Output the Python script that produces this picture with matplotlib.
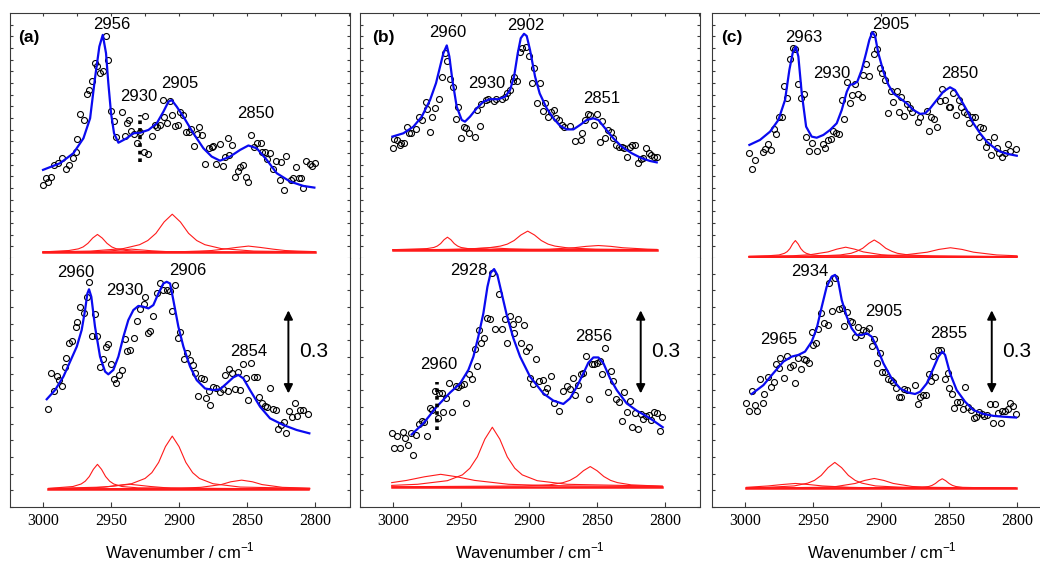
import matplotlib.pyplot as plt
from matplotlib.ticker import MultipleLocator

plt.rcParams["font.family"] = ["Liberation Sans", "DejaVu Sans"]
plt.rcParams["mathtext.fontset"] = "custom"
plt.rcParams["mathtext.rm"] = "Liberation Sans"

# ---------------- panel (a) ----------------
a_up_x = [3000, 2998, 2996, 2994, 2992, 2989, 2986, 2983, 2981, 2978, 2976, 2975, 2973, 2970, 2968, 2966, 2964,
          2962, 2960, 2958, 2956, 2954, 2952, 2950, 2948, 2946, 2942, 2940, 2938, 2937, 2935, 2933, 2931, 2929,
          2926, 2925, 2923, 2920, 2918, 2916, 2914, 2912, 2911, 2909, 2907, 2905, 2903, 2901, 2899, 2897, 2895,
          2893, 2891, 2889, 2887, 2885, 2883, 2881, 2878, 2876, 2875, 2873, 2870, 2868, 2866, 2864, 2863, 2861,
          2859, 2857, 2855, 2853, 2851, 2849, 2847, 2845, 2843, 2840, 2839, 2837, 2835, 2833, 2831, 2829, 2826,
          2825, 2823, 2821, 2818, 2816, 2814, 2812, 2810, 2809, 2807, 2804, 2802, 2800]
a_up_y = [0.264, 0.288, 0.273, 0.291, 0.337, 0.342, 0.360, 0.321, 0.337, 0.360,
          0.384, 0.430, 0.520, 0.499, 0.592, 0.606, 0.637, 0.704, 0.692, 0.667,
          0.674, 0.801, 0.716, 0.532, 0.493, 0.436, 0.528, 0.439, 0.487, 0.499,
          0.457, 0.448, 0.415, 0.454, 0.384, 0.514, 0.375, 0.442, 0.480, 0.472,
          0.481, 0.570, 0.508, 0.487, 0.567, 0.517, 0.478, 0.481, 0.528, 0.516,
          0.454, 0.454, 0.467, 0.403, 0.448, 0.472, 0.444, 0.338, 0.396, 0.400,
          0.404, 0.339, 0.412, 0.332, 0.363, 0.433, 0.372, 0.407, 0.291, 0.315,
          0.327, 0.337, 0.291, 0.276, 0.444, 0.400, 0.415, 0.416, 0.384, 0.384,
          0.357, 0.379, 0.321, 0.351, 0.283, 0.347, 0.244, 0.367, 0.283, 0.288,
          0.330, 0.288, 0.288, 0.254, 0.349, 0.338, 0.331, 0.343]
a_up_fit_x = [3000, 2987.5, 2977.7, 2970.3, 2965.4, 2961.8, 2958.6, 2956.1, 2953.7, 2952.0, 2950.0, 2947.8,
              2944.6, 2938.5, 2933.6, 2928.7, 2922.5, 2916.4, 2911.5, 2907.8, 2905.4, 2901.7, 2896.8, 2889.5,
              2882.1, 2876.0, 2869.9, 2862.5, 2855.1, 2849.0, 2842.9, 2835.5, 2828.2, 2818.4, 2808.6, 2800.5]
a_up_fit_y = [0.318, 0.342, 0.378, 0.432, 0.504, 0.649, 0.763, 0.805, 0.739, 0.631, 0.522, 0.450,
              0.416, 0.432, 0.450, 0.452, 0.462, 0.486, 0.528, 0.564, 0.570, 0.546, 0.510, 0.450,
              0.396, 0.366, 0.351, 0.366, 0.390, 0.406, 0.396, 0.354, 0.306, 0.276, 0.260, 0.254]
a_up_base = 0.020
a_up_bands = [
    ([3000, 2981, 2974, 2970.5, 2967, 2963.5, 2960, 2956.5, 2953, 2949.5, 2946, 2939, 2925, 2800],
     [0.022, 0.027, 0.033, 0.040, 0.053, 0.072, 0.085, 0.072, 0.053, 0.040, 0.033, 0.027, 0.023, 0.020]),
    ([3000, 2965, 2941, 2929, 2923, 2917, 2911, 2905, 2899, 2893, 2887, 2881, 2869, 2845, 2800],
     [0.022, 0.025, 0.034, 0.048, 0.063, 0.089, 0.130, 0.158, 0.130, 0.089, 0.063, 0.048, 0.034, 0.025, 0.022]),
    ([3000, 2903, 2885, 2876, 2867, 2858, 2849, 2840, 2831, 2822, 2813, 2800],
     [0.020, 0.022, 0.025, 0.027, 0.032, 0.038, 0.043, 0.038, 0.032, 0.027, 0.025, 0.023]),
    ([3000, 2980, 2965, 2950, 2935, 2920, 2905, 2890, 2800],
     [0.020, 0.021, 0.022, 0.026, 0.032, 0.026, 0.022, 0.021, 0.020]),
]
a_up_labels = ["2956", "2930", "2905", "2850"]

a_low_x = [2996, 2994, 2992, 2990, 2988, 2986, 2984, 2983, 2981, 2979, 2976, 2975, 2973, 2970, 2968, 2966, 2964,
           2962, 2960, 2958, 2956, 2954, 2952, 2950, 2948, 2946, 2944, 2942, 2940, 2938, 2936, 2933, 2931, 2929,
           2926, 2925, 2923, 2921, 2919, 2916, 2914, 2912, 2909, 2907, 2905, 2903, 2901, 2899, 2896, 2894, 2892,
           2890, 2888, 2886, 2884, 2882, 2880, 2878, 2877, 2875, 2873, 2870, 2868, 2866, 2864, 2863, 2861, 2859,
           2857, 2855, 2853, 2851, 2849, 2847, 2845, 2843, 2841, 2839, 2837, 2835, 2833, 2831, 2829, 2827, 2825,
           2823, 2821, 2819, 2817, 2815, 2813, 2811, 2809, 2805]
a_low_y = [0.353, 0.485, 0.420, 0.473, 0.458, 0.437, 0.504, 0.539, 0.593, 0.600,
           0.649, 0.669, 0.723, 0.702, 0.759, 0.812, 0.619, 0.697, 0.619, 0.507,
           0.533, 0.576, 0.587, 0.516, 0.461, 0.449, 0.477, 0.495, 0.605, 0.563,
           0.567, 0.609, 0.673, 0.714, 0.733, 0.757, 0.629, 0.637, 0.688, 0.771,
           0.809, 0.783, 0.783, 0.781, 0.709, 0.801, 0.611, 0.633, 0.534, 0.557,
           0.531, 0.513, 0.485, 0.401, 0.464, 0.461, 0.395, 0.420, 0.367, 0.434,
           0.430, 0.416, 0.425, 0.477, 0.419, 0.498, 0.485, 0.425, 0.489, 0.421,
           0.516, 0.464, 0.386, 0.521, 0.468, 0.468, 0.398, 0.374, 0.365, 0.362,
           0.428, 0.353, 0.350, 0.282, 0.296, 0.308, 0.266, 0.348, 0.326, 0.377,
           0.330, 0.350, 0.350, 0.336]
a_low_fit_x = [2997.3, 2991.2, 2985.0, 2980.1, 2975.2, 2971.6, 2969.1, 2967.4, 2966.2, 2964.5, 2961.8, 2958.1,
               2954.4, 2952.0, 2948.3, 2944.6, 2940.9, 2937.3, 2933.6, 2929.9, 2926.2, 2922.5, 2918.9, 2915.2,
               2911.5, 2909.1, 2906.6, 2904.2, 2900.5, 2896.8, 2891.9, 2887.0, 2880.9, 2874.8, 2869.9, 2865.0,
               2860.1, 2856.4, 2852.7, 2847.8, 2840.4, 2833.1, 2823.3, 2813.5, 2804.2]
a_low_fit_y = [0.389, 0.422, 0.471, 0.525, 0.579, 0.639, 0.711, 0.771, 0.786, 0.759, 0.651, 0.543,
               0.489, 0.479, 0.495, 0.543, 0.615, 0.675, 0.711, 0.726, 0.723, 0.717, 0.729, 0.771,
               0.807, 0.813, 0.807, 0.747, 0.651, 0.579, 0.507, 0.458, 0.428, 0.422, 0.425, 0.446,
               0.468, 0.477, 0.464, 0.422, 0.362, 0.320, 0.296, 0.278, 0.266]
a_low_base = 0.065
a_low_bands = [
    ([2996, 2978, 2972, 2969, 2966, 2963, 2960, 2957, 2954, 2951, 2948, 2942, 2930, 2804],
     [0.067, 0.074, 0.083, 0.093, 0.110, 0.136, 0.154, 0.136, 0.110, 0.093, 0.083, 0.074, 0.069, 0.065]),
    ([2996, 2955, 2935, 2925, 2920, 2915, 2910, 2905, 2900, 2895, 2890, 2885, 2875, 2855, 2804],
     [0.067, 0.072, 0.084, 0.103, 0.124, 0.161, 0.218, 0.256, 0.218, 0.161, 0.124, 0.103, 0.084, 0.072, 0.067]),
    ([2996, 2899, 2884, 2869, 2862, 2854, 2846, 2839, 2824, 2804],
     [0.065, 0.068, 0.071, 0.081, 0.091, 0.097, 0.091, 0.081, 0.071, 0.068]),
    ([2996, 2981, 2966, 2951, 2936, 2921, 2906, 2891, 2804],
     [0.066, 0.067, 0.068, 0.074, 0.082, 0.074, 0.068, 0.067, 0.065]),
]
a_low_labels = ["2960", "2930", "2906", "2854"]

# ---------------- panel (b) ----------------
b_up_x = [3000, 2999, 2997, 2995, 2994, 2992, 2990, 2988, 2987, 2983, 2981, 2979, 2976, 2975, 2973, 2971, 2969,
          2966, 2964, 2962, 2960, 2958, 2956, 2954, 2952, 2950, 2948, 2946, 2944, 2940, 2938, 2936, 2935, 2932,
          2930, 2926, 2924, 2920, 2918, 2916, 2914, 2912, 2911, 2909, 2907, 2905, 2902, 2900, 2898, 2896, 2894,
          2892, 2890, 2888, 2886, 2884, 2882, 2880, 2878, 2876, 2874, 2870, 2866, 2862, 2861, 2859, 2857, 2855,
          2852, 2850, 2848, 2846, 2844, 2842, 2840, 2838, 2836, 2834, 2832, 2830, 2828, 2826, 2824, 2822, 2820,
          2818, 2816, 2814, 2812, 2810, 2808, 2806]
b_up_y = [0.396, 0.428, 0.426, 0.406, 0.416, 0.414, 0.471, 0.452, 0.450, 0.464,
          0.508, 0.498, 0.564, 0.538, 0.456, 0.510, 0.540, 0.574, 0.652, 0.739,
          0.712, 0.646, 0.616, 0.501, 0.544, 0.434, 0.471, 0.468, 0.450, 0.436,
          0.534, 0.477, 0.555, 0.570, 0.573, 0.567, 0.573, 0.573, 0.582, 0.597,
          0.606, 0.639, 0.652, 0.637, 0.745, 0.757, 0.763, 0.729, 0.631, 0.685,
          0.558, 0.631, 0.531, 0.561, 0.510, 0.528, 0.534, 0.504, 0.498, 0.480,
          0.474, 0.477, 0.422, 0.426, 0.450, 0.498, 0.520, 0.516, 0.480, 0.519,
          0.420, 0.495, 0.432, 0.462, 0.456, 0.432, 0.406, 0.402, 0.402, 0.398,
          0.366, 0.402, 0.406, 0.406, 0.342, 0.359, 0.360, 0.398, 0.378, 0.372,
          0.366, 0.366]
b_up_fit_x = [3000.5, 2992.4, 2985.0, 2978.9, 2972.8, 2968.4, 2965.4, 2963.0, 2960.5, 2958.6, 2956.4, 2953.2,
              2949.5, 2947.1, 2943.4, 2938.5, 2933.6, 2928.7, 2922.5, 2917.6, 2914.0, 2911.0, 2908.3, 2906.1,
              2903.7, 2901.7, 2899.3, 2895.6, 2892.2, 2887.0, 2882.1, 2877.2, 2872.3, 2867.4, 2862.5, 2857.6,
              2852.7, 2849.0, 2844.1, 2838.0, 2831.9, 2824.5, 2817.2, 2811.0, 2806.1]
b_up_fit_y = [0.438, 0.450, 0.474, 0.510, 0.570, 0.631, 0.691, 0.739, 0.767, 0.727, 0.643, 0.546,
              0.498, 0.492, 0.510, 0.540, 0.564, 0.573, 0.573, 0.582, 0.606, 0.655, 0.739, 0.793,
              0.809, 0.801, 0.751, 0.655, 0.594, 0.540, 0.504, 0.477, 0.464, 0.464, 0.480, 0.498,
              0.504, 0.498, 0.468, 0.432, 0.402, 0.378, 0.360, 0.350, 0.345]
b_up_base = 0.029
b_up_bands = [
    ([3000, 2975, 2970, 2967.5, 2965, 2962.5, 2960, 2957.5, 2955, 2952.5, 2950, 2945, 2935, 2806],
     [0.030, 0.034, 0.038, 0.043, 0.052, 0.066, 0.075, 0.066, 0.052, 0.043, 0.038, 0.034, 0.031, 0.029]),
    ([3000, 2951, 2931, 2921, 2916, 2911, 2906, 2901, 2896, 2891, 2886, 2881, 2871, 2851, 2806],
     [0.030, 0.031, 0.036, 0.043, 0.050, 0.063, 0.083, 0.097, 0.083, 0.063, 0.050, 0.043, 0.036, 0.032, 0.030]),
    ([3000, 2903, 2885, 2867, 2858, 2849, 2840, 2831, 2813, 2806],
     [0.029, 0.031, 0.032, 0.037, 0.042, 0.045, 0.042, 0.037, 0.032, 0.031]),
    ([3000, 2974, 2959, 2944, 2929, 2914, 2899, 2884, 2806],
     [0.029, 0.030, 0.031, 0.033, 0.037, 0.033, 0.031, 0.030, 0.029]),
]
b_up_labels = ["2960", "2930", "2902", "2851"]

b_low_x = [3001, 2999, 2997, 2995, 2993, 2991, 2989, 2987, 2985, 2983, 2981, 2979, 2977, 2975, 2973, 2971, 2969,
           2967, 2966, 2964, 2963, 2961, 2959, 2957, 2954, 2952, 2950, 2948, 2946, 2944, 2942, 2940, 2938, 2937,
           2935, 2933, 2931, 2929, 2927, 2925, 2922, 2920, 2918, 2916, 2914, 2912, 2911, 2908, 2906, 2904, 2902,
           2900, 2899, 2897, 2895, 2893, 2890, 2888, 2887, 2884, 2882, 2878, 2875, 2872, 2870, 2868, 2866, 2864,
           2862, 2860, 2858, 2856, 2854, 2852, 2850, 2848, 2846, 2844, 2842, 2840, 2838, 2836, 2834, 2832, 2830,
           2828, 2826, 2824, 2822, 2820, 2818, 2816, 2814, 2812, 2810, 2808, 2806, 2804, 2802]
b_low_y = [0.266, 0.212, 0.256, 0.212, 0.272, 0.248, 0.224, 0.268, 0.188, 0.260,
           0.300, 0.310, 0.308, 0.256, 0.356, 0.350, 0.420, 0.320, 0.410, 0.410,
           0.344, 0.392, 0.446, 0.344, 0.437, 0.432, 0.440, 0.443, 0.377, 0.479,
           0.461, 0.570, 0.509, 0.639, 0.591, 0.609, 0.684, 0.680, 0.846, 0.643,
           0.769, 0.643, 0.680, 0.591, 0.691, 0.661, 0.627, 0.680, 0.591, 0.657,
           0.563, 0.579, 0.467, 0.444, 0.533, 0.455, 0.458, 0.414, 0.428, 0.473,
           0.374, 0.348, 0.419, 0.437, 0.426, 0.466, 0.404, 0.440, 0.480, 0.483,
           0.546, 0.389, 0.516, 0.516, 0.519, 0.528, 0.480, 0.575, 0.416, 0.492,
           0.455, 0.389, 0.378, 0.312, 0.416, 0.342, 0.383, 0.288, 0.338, 0.282,
           0.336, 0.318, 0.330, 0.332, 0.314, 0.344, 0.341, 0.274, 0.326]
b_low_fit_x = [2986.3, 2977.7, 2967.9, 2958.1, 2950.7, 2944.6, 2940.9, 2937.3, 2933.6, 2930.6, 2928.2, 2925.7,
               2923.3, 2920.1, 2916.4, 2911.5, 2906.6, 2899.3, 2889.5, 2882.1, 2874.8, 2869.9, 2864.9, 2860.0,
               2856.4, 2852.7, 2849.0, 2845.3, 2840.4, 2835.5, 2828.2, 2820.8, 2811.0, 2801.7]
b_low_fit_y = [0.262, 0.302, 0.362, 0.413, 0.446, 0.495, 0.543, 0.615, 0.699, 0.795, 0.846, 0.859,
               0.838, 0.771, 0.693, 0.609, 0.543, 0.471, 0.410, 0.384, 0.372, 0.392, 0.434, 0.483,
               0.521, 0.540, 0.540, 0.519, 0.464, 0.422, 0.374, 0.348, 0.320, 0.288]
b_low_base = 0.073
b_low_bands = [
    ([3001, 2982, 2960, 2949, 2943.5, 2938, 2932.5, 2927, 2921.5, 2916, 2910.5, 2905, 2894, 2872, 2802],
     [0.078, 0.082, 0.095, 0.116, 0.140, 0.181, 0.245, 0.288, 0.245, 0.181, 0.140, 0.116, 0.095, 0.082, 0.075]),
    ([3001, 2905, 2885, 2875, 2870, 2865, 2860, 2855, 2850, 2845, 2840, 2835, 2825, 2802],
     [0.073, 0.076, 0.080, 0.088, 0.096, 0.110, 0.131, 0.146, 0.131, 0.110, 0.096, 0.088, 0.080, 0.075]),
    ([3001, 2990, 2977, 2965, 2953, 2940, 2915, 2890, 2865, 2802],
     [0.088, 0.096, 0.109, 0.118, 0.109, 0.096, 0.082, 0.078, 0.076, 0.074]),
]
b_low_labels = ["2928", "2960", "2856"]

# ---------------- panel (c) ----------------
c_up_x = [2997, 2995, 2993, 2987, 2985, 2983, 2981, 2979, 2977, 2975, 2973, 2971, 2969, 2967, 2965, 2963, 2961,
          2959, 2957, 2955, 2953, 2951, 2947, 2943, 2941, 2939, 2937, 2935, 2933, 2931, 2929, 2927, 2925, 2923,
          2921, 2919, 2917, 2914, 2913, 2911, 2909, 2906, 2905, 2903, 2901, 2899, 2897, 2895, 2893, 2891, 2888,
          2887, 2885, 2883, 2881, 2879, 2877, 2873, 2871, 2866, 2865, 2863, 2861, 2859, 2857, 2855, 2853, 2850,
          2849, 2847, 2845, 2843, 2841, 2839, 2837, 2835, 2833, 2831, 2828, 2827, 2825, 2823, 2821, 2819, 2817,
          2815, 2813, 2811, 2809, 2807, 2805, 2801]
c_up_y = [0.380, 0.321, 0.353, 0.384, 0.392, 0.412, 0.390, 0.464, 0.448, 0.508,
          0.508, 0.622, 0.579, 0.717, 0.757, 0.753, 0.628, 0.579, 0.592, 0.438,
          0.386, 0.416, 0.387, 0.412, 0.398, 0.426, 0.428, 0.458, 0.452, 0.448,
          0.570, 0.502, 0.634, 0.558, 0.588, 0.628, 0.592, 0.582, 0.661, 0.700,
          0.655, 0.809, 0.736, 0.753, 0.687, 0.667, 0.643, 0.522, 0.604, 0.564,
          0.603, 0.525, 0.582, 0.514, 0.556, 0.543, 0.526, 0.489, 0.508, 0.531,
          0.458, 0.510, 0.501, 0.473, 0.568, 0.610, 0.570, 0.546, 0.546, 0.597,
          0.516, 0.570, 0.546, 0.526, 0.520, 0.486, 0.507, 0.507, 0.438, 0.472,
          0.468, 0.400, 0.420, 0.372, 0.436, 0.396, 0.378, 0.363, 0.378, 0.412,
          0.387, 0.395]
c_up_fit_x = [2996.8, 2989.0, 2981.6, 2975.5, 2970.6, 2967.4, 2965.0, 2962.7, 2960.8, 2958.3, 2955.1, 2951.0,
              2947.3, 2942.4, 2937.5, 2932.6, 2928.9, 2925.2, 2922.8, 2919.9, 2917.4, 2914.2, 2911.0, 2908.6,
              2906.4, 2904.4, 2902.0, 2898.3, 2894.6, 2890.9, 2886.0, 2881.1, 2876.2, 2871.3, 2867.6, 2863.9,
              2859.1, 2854.2, 2849.3, 2845.6, 2841.9, 2837.0, 2832.1, 2827.2, 2822.3, 2817.4, 2812.5, 2806.4,
              2800.2]
c_up_fit_y = [0.408, 0.426, 0.456, 0.498, 0.570, 0.679, 0.739, 0.763, 0.727, 0.594, 0.474, 0.438,
              0.434, 0.444, 0.462, 0.486, 0.534, 0.600, 0.625, 0.628, 0.637, 0.679, 0.739, 0.787,
              0.815, 0.801, 0.739, 0.673, 0.625, 0.594, 0.576, 0.558, 0.534, 0.520, 0.522, 0.540,
              0.570, 0.600, 0.616, 0.606, 0.576, 0.534, 0.486, 0.450, 0.420, 0.400, 0.384, 0.375,
              0.369]
c_up_base = 0.005
c_up_bands = [
    ([2997, 2983, 2975, 2971, 2969, 2967, 2965, 2963, 2961, 2959, 2957, 2955, 2951, 2943, 2800],
     [0.006, 0.008, 0.011, 0.017, 0.023, 0.034, 0.051, 0.063, 0.051, 0.034, 0.023, 0.017, 0.011, 0.008, 0.005]),
    ([2997, 2965, 2952, 2939, 2932.5, 2926, 2919.5, 2913, 2900, 2887, 2850, 2800],
     [0.006, 0.008, 0.012, 0.022, 0.032, 0.039, 0.032, 0.022, 0.012, 0.008, 0.006, 0.005]),
    ([2997, 2948, 2930, 2922, 2918, 2913.5, 2909, 2905, 2901, 2896.5, 2892, 2888, 2880, 2862, 2800],
     [0.005, 0.007, 0.011, 0.017, 0.024, 0.035, 0.053, 0.065, 0.053, 0.035, 0.024, 0.017, 0.011, 0.007, 0.005]),
    ([2997, 2900, 2883, 2866, 2857.5, 2849, 2840.5, 2832, 2815, 2800],
     [0.005, 0.008, 0.011, 0.021, 0.031, 0.037, 0.031, 0.021, 0.011, 0.008]),
]
c_up_labels = ["2963", "2930", "2905", "2850"]

c_low_x = [2999, 2997, 2995, 2993, 2991, 2989, 2987, 2986, 2983, 2981, 2979, 2977, 2975, 2974, 2971, 2969, 2967,
           2965, 2963, 2961, 2959, 2957, 2955, 2953, 2951, 2950, 2948, 2946, 2944, 2942, 2939, 2938, 2936, 2934,
           2931, 2929, 2927, 2925, 2923, 2921, 2919, 2917, 2915, 2913, 2911, 2909, 2907, 2905, 2903, 2901, 2899,
           2897, 2895, 2893, 2891, 2889, 2887, 2885, 2883, 2881, 2875, 2873, 2871, 2869, 2867, 2865, 2863, 2862,
           2860, 2858, 2856, 2853, 2851, 2850, 2848, 2846, 2844, 2842, 2840, 2838, 2836, 2834, 2832, 2830, 2828,
           2826, 2824, 2822, 2820, 2818, 2816, 2814, 2812, 2811, 2809, 2807, 2805, 2803, 2801]
c_low_y = [0.374, 0.348, 0.419, 0.368, 0.347, 0.461, 0.374, 0.407, 0.471, 0.432,
           0.452, 0.515, 0.503, 0.537, 0.467, 0.545, 0.504, 0.513, 0.446, 0.537,
           0.497, 0.533, 0.531, 0.519, 0.633, 0.585, 0.593, 0.643, 0.699, 0.665,
           0.657, 0.807, 0.709, 0.826, 0.714, 0.717, 0.653, 0.705, 0.673, 0.669,
           0.615, 0.649, 0.621, 0.639, 0.637, 0.647, 0.581, 0.605, 0.519, 0.555,
           0.489, 0.486, 0.461, 0.458, 0.452, 0.428, 0.398, 0.398, 0.425, 0.422,
           0.440, 0.372, 0.396, 0.404, 0.404, 0.480, 0.456, 0.545, 0.471, 0.567,
           0.567, 0.461, 0.485, 0.428, 0.408, 0.359, 0.380, 0.380, 0.354, 0.434,
           0.362, 0.350, 0.320, 0.324, 0.344, 0.336, 0.330, 0.332, 0.372, 0.302,
           0.372, 0.341, 0.302, 0.348, 0.348, 0.353, 0.374, 0.365, 0.336]
c_low_fit_x = [2995.1, 2986.5, 2979.2, 2971.8, 2965.7, 2960.8, 2955.9, 2951.0, 2947.3, 2943.6, 2940.0, 2936.3,
               2933.8, 2931.4, 2928.9, 2925.2, 2921.6, 2917.9, 2914.2, 2910.5, 2906.9, 2903.2, 2898.3, 2892.2,
               2886.0, 2879.9, 2875.0, 2871.3, 2866.4, 2861.5, 2857.8, 2854.9, 2852.9, 2849.3, 2844.4, 2838.2,
               2832.1, 2824.8, 2817.4, 2810.0, 2800.7]
c_low_fit_y = [0.408, 0.440, 0.483, 0.525, 0.543, 0.549, 0.561, 0.597, 0.645, 0.723, 0.795, 0.832,
               0.838, 0.813, 0.747, 0.687, 0.645, 0.621, 0.621, 0.627, 0.615, 0.579, 0.519, 0.464,
               0.428, 0.413, 0.408, 0.416, 0.446, 0.501, 0.543, 0.561, 0.549, 0.483, 0.422, 0.380,
               0.350, 0.336, 0.329, 0.326, 0.323]
c_low_base = 0.067
c_low_bands = [
    ([2999, 2984, 2964, 2954, 2949, 2944, 2939, 2934, 2929, 2924, 2919, 2914, 2904, 2884, 2801],
     [0.069, 0.071, 0.076, 0.086, 0.096, 0.114, 0.142, 0.161, 0.142, 0.114, 0.096, 0.086, 0.076, 0.071, 0.068]),
    ([2999, 2947, 2933, 2919, 2912, 2905, 2898, 2891, 2877, 2863, 2801],
     [0.068, 0.071, 0.074, 0.085, 0.096, 0.103, 0.096, 0.085, 0.074, 0.071, 0.068]),
    ([2999, 2870, 2865, 2862.5, 2860, 2857.5, 2855, 2852.5, 2850, 2847.5, 2845, 2840, 2801],
     [0.067, 0.071, 0.074, 0.078, 0.085, 0.095, 0.102, 0.095, 0.085, 0.078, 0.074, 0.071, 0.067]),
    ([2999, 2983, 2973, 2963, 2953, 2943, 2923, 2903, 2801],
     [0.071, 0.076, 0.081, 0.085, 0.081, 0.076, 0.071, 0.069, 0.067]),
]
c_low_labels = ["2934", "2905", "2965", "2855"]

scale_value = 0.3

# ---------------- figure ----------------
W, H = 1040, 565
fig = plt.figure(figsize=(W / 100, H / 100), dpi=100)

XLIM = (3024.3, 2774.3)
UP_TOP = 0.884
LOW_TOP = 0.899
frame = "#3a3a3a"


def style(ax, upper):
    ax.set_xlim(*XLIM)
    for s in ax.spines.values():
        s.set_linewidth(0.8)
        s.set_color(frame)
    if upper:
        ax.set_ylim(0, UP_TOP)
        ax.spines["bottom"].set_visible(False)
        ax.xaxis.set_major_locator(MultipleLocator(25))
        ax.tick_params(axis="x", bottom=False, top=True, labelbottom=False,
                       direction="in", length=2.5, color=frame)
        ax.yaxis.set_major_locator(MultipleLocator(0.0421))
    else:
        ax.set_ylim(0, LOW_TOP)
        ax.spines["top"].set_visible(False)
        ax.xaxis.set_major_locator(MultipleLocator(50))
        ax.ticklabel_format(axis="x", useOffset=False)
        ax.tick_params(axis="x", bottom=True, top=False, direction="in", length=3.5,
                       color=frame, labelsize=11.5, labelfontfamily="Liberation Serif", pad=4)
        ax.yaxis.set_major_locator(MultipleLocator(0.0602))
        ax.set_xlabel("Wavenumber / cm$^{-1}$", fontsize=12)
        ax.xaxis.label.set_verticalalignment("baseline")
        ax.xaxis.set_label_coords(0.5, -(558 - 507) / 249)
    ax.tick_params(axis="y", left=True, right=True, labelleft=False,
                   direction="in", length=2.5, color=frame)


def trace(ax, x, y, fx, fy, bands, base):
    for bx, by in bands:
        ax.plot(bx, by, color="#ff1a1a", lw=0.8, zorder=1)
    ax.plot([x[0], x[-1]], [base, base], color="#ff1a1a", lw=1.8, zorder=1)
    ax.plot(x, y, "o", mfc="none", mec="black", ms=4.3, mew=0.8, zorder=2)
    ax.plot(fx, fy, color="#0a0af0", lw=1.6, zorder=3)


def peak_labels(ax, labels, xs, ys):
    for t, px, py in zip(labels, xs, ys):
        ax.text(px, py, t, fontsize=12, ha="center", va="center", zorder=4)


def scale_bar(ax, x, y0):
    ax.annotate("", xy=(x, y0 + scale_value), xytext=(x, y0),
                arrowprops=dict(arrowstyle="<|-|>", color="black", lw=1.4,
                                mutation_scale=13, shrinkA=0, shrinkB=0))
    ax.text(x - 18.5, y0 + scale_value / 2, f"{scale_value}", fontsize=15,
            ha="center", va="center")


lefts = [10, 360, 712]
wpx = 340
up_axes = []
low_axes = []
for lx in lefts:
    au = fig.add_axes([lx / W, 1 - 258 / H, wpx / W, 245 / H])
    al = fig.add_axes([lx / W, 1 - 507 / H, wpx / W, 249 / H])
    style(au, True)
    style(al, False)
    up_axes.append(au)
    low_axes.append(al)

# (a)
ax = up_axes[0]
trace(ax, a_up_x, a_up_y, a_up_fit_x, a_up_fit_y, a_up_bands, a_up_base)
peak_labels(ax, a_up_labels, [2949.5, 2929.9, 2899.3, 2843.4], [0.841, 0.582, 0.631, 0.520])
ax.plot([2928.7, 2928.7], [0.348, 0.516], color="black", lw=2.6, ls=(0, (1, 1.1)), zorder=4)
ax.text(0.024, 0.898, "(a)", transform=ax.transAxes, fontsize=12.5, fontweight="bold",
        ha="left", va="center")
ax = low_axes[0]
trace(ax, a_low_x, a_low_y, a_low_fit_x, a_low_fit_y, a_low_bands, a_low_base)
peak_labels(ax, a_low_labels, [2975.7, 2939.7, 2893.9, 2849.0], [0.846, 0.783, 0.853, 0.561])
scale_bar(ax, 2819.6, 0.410)

# (b)
ax = up_axes[1]
trace(ax, b_up_x, b_up_y, b_up_fit_x, b_up_fit_y, b_up_bands, b_up_base)
peak_labels(ax, b_up_labels, [2960.0, 2931.1, 2902.2, 2846.6], [0.815, 0.631, 0.838, 0.576])
ax.text(0.037, 0.898, "(b)", transform=ax.transAxes, fontsize=12.5, fontweight="bold",
        ha="left", va="center")
ax = low_axes[1]
trace(ax, b_low_x, b_low_y, b_low_fit_x, b_low_fit_y, b_low_bands, b_low_base)
peak_labels(ax, b_low_labels, [2944.6, 2966.7, 2852.7], [0.853, 0.513, 0.617])
ax.plot([2967.9, 2967.9], [0.278, 0.452], color="black", lw=2.6, ls=(0, (1, 1.1)), zorder=4)
scale_bar(ax, 2817.9, 0.410)

# (c)
ax = up_axes[2]
trace(ax, c_up_x, c_up_y, c_up_fit_x, c_up_fit_y, c_up_bands, c_up_base)
peak_labels(ax, c_up_labels, [2957.1, 2936.3, 2892.9, 2842.4], [0.797, 0.667, 0.841, 0.664])
ax.text(0.028, 0.898, "(c)", transform=ax.transAxes, fontsize=12.5, fontweight="bold",
        ha="left", va="center")
ax = low_axes[2]
trace(ax, c_low_x, c_low_y, c_low_fit_x, c_low_fit_y, c_low_bands, c_low_base)
peak_labels(ax, c_low_labels, [2952.2, 2898.3, 2975.5, 2850.5], [0.850, 0.705, 0.603, 0.627])
scale_bar(ax, 2818.6, 0.410)

fig.savefig("out.png", dpi=100)
